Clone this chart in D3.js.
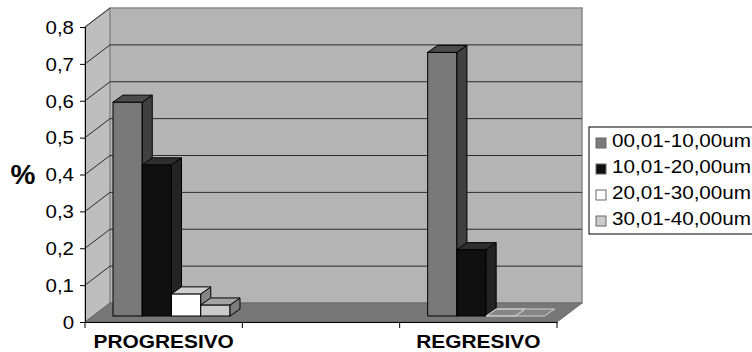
<!DOCTYPE html>
<html>
<head>
<meta charset="utf-8">
<script src="https://cdn.jsdelivr.net/npm/d3@7"></script>
<style>
  html, body { margin: 0; padding: 0; background: #fff; }
  svg { display: block; font-family: "Liberation Sans", Arial, sans-serif; }
</style>
</head>
<body>
<svg id="chart" width="752" height="352"></svg>
<script>
// Categories along the x axis (the middle slot is an empty spacer)
const categories = ["PROGRESIVO", "", "REGRESIVO"];
const seriesNames = ["00,01-10,00um", "10,01-20,00um", "20,01-30,00um", "30,01-40,00um"];
const s1Values = [0.58, null, 0.715];
const s2Values = [0.41, null, 0.18];
const s3Values = [0.06, null, 0.0];
const s4Values = [0.03, null, 0.0];
const yTicks = [0, 0.1, 0.2, 0.3, 0.4, 0.5, 0.6, 0.7, 0.8];
const yTickLabels = ["0", "0,1", "0,2", "0,3", "0,4", "0,5", "0,6", "0,7", "0,8"];

const seriesValues = [s1Values, s2Values, s3Values, s4Values];
const faceColors = [
  { front: "#797979", side: "#404040", top: "#4c4c4c" },
  { front: "#101010", side: "#242424", top: "#2e2e2e" },
  { front: "#ffffff", side: "#858585", top: "#cfcfcf" },
  { front: "#cbcbcb", side: "#7c7c7c", top: "#a3a3a3" }
];

const svg = d3.select("#chart");
const TEXT_SX = 1.17;               // horizontal stretch applied to labels
const WALL_DX = 25, WALL_DY = -19;  // depth of the 3D box
const BAR_FX = 8, BAR_FY = -6;      // bar front face offset into the box
const BAR_DX = 10, BAR_DY = -7;     // bar depth

const y = d3.scaleLinear().domain([0, 0.8]).range([322, 27]);
const x = d3.scaleBand().domain(categories).range([85, 557]);
const xs = d3.scaleBand().domain(seriesNames).range([20, 137]);

const left = x.range()[0], right = x.range()[1];
const pts = a => a.map(p => p.join(",")).join(" ");

// Walls and floor
svg.append("polygon")
  .attr("points", pts([[left, y(0)], [left + WALL_DX, y(0) + WALL_DY], [left + WALL_DX, y(0.8) + WALL_DY], [left, y(0.8)]]))
  .attr("fill", "#bebebe").attr("stroke", "#8a8a8a");
svg.append("rect")
  .attr("x", left + WALL_DX).attr("y", y(0.8) + WALL_DY)
  .attr("width", right - left).attr("height", y(0) - y(0.8))
  .attr("fill", "#b4b4b4").attr("stroke", "#8a8a8a").attr("stroke-width", 1.5);
svg.append("polygon")
  .attr("points", pts([[left, y(0)], [right, y(0)], [right + WALL_DX, y(0) + WALL_DY], [left + WALL_DX, y(0) + WALL_DY]]))
  .attr("fill", "#777777").attr("stroke", "#666");

// Gridlines on the back and side walls
const grid = svg.append("g").attr("stroke", "#2a2a2a").attr("stroke-width", 1);
yTicks.filter(t => t > 0 && t < 0.8).forEach(t => {
  grid.append("line")
    .attr("x1", left + WALL_DX).attr("x2", right + WALL_DX)
    .attr("y1", y(t) + WALL_DY).attr("y2", y(t) + WALL_DY);
});
yTicks.filter(t => t > 0).forEach(t => {
  grid.append("line")
    .attr("x1", left).attr("x2", left + WALL_DX)
    .attr("y1", y(t)).attr("y2", y(t) + WALL_DY);
});

// 3D bars, drawn left to right so each front face covers its neighbour's side
const bars = svg.append("g").attr("stroke", "#000").attr("stroke-width", 1);
categories.forEach((cat, ci) => {
  seriesNames.forEach((name, si) => {
    const v = seriesValues[si][ci];
    if (v === null || v === undefined) return;
    const c = faceColors[si];
    const bx = x(cat) + xs(name) + BAR_FX;
    const w = xs.bandwidth();
    const base = y(0) + BAR_FY;
    const top = y(v) + BAR_FY;
    const topFace = [[bx, top], [bx + BAR_DX, top + BAR_DY], [bx + w + BAR_DX, top + BAR_DY], [bx + w, top]];
    if (v === 0) {
      bars.append("polygon").attr("points", pts(topFace))
        .attr("fill", "#868686").attr("stroke", c.front === "#ffffff" ? "#f2f2f2" : "#d0d0d0");
      return;
    }
    bars.append("rect").attr("x", bx).attr("y", top).attr("width", w).attr("height", base - top)
      .attr("fill", c.front);
    bars.append("polygon")
      .attr("points", pts([[bx + w, top], [bx + w + BAR_DX, top + BAR_DY], [bx + w + BAR_DX, base + BAR_DY], [bx + w, base]]))
      .attr("fill", c.side);
    bars.append("polygon").attr("points", pts(topFace)).attr("fill", c.top);
  });
});

// Value axis
const yAxis = svg.append("g")
  .attr("transform", `translate(${left},0)`)
  .call(d3.axisLeft(y).tickValues(yTicks).tickFormat((d, i) => yTickLabels[i]).tickSize(5).tickPadding(6));
yAxis.select(".domain").attr("stroke", "#000");
yAxis.selectAll(".tick line").attr("stroke", "#000");
yAxis.selectAll(".tick text")
  .attr("font-size", 17.5).attr("fill", "#000")
  .attr("font-family", "'Liberation Sans', Arial, sans-serif")
  .attr("x", -11 / TEXT_SX).attr("dy", "0.36em")
  .attr("transform", `scale(${TEXT_SX},1)`);

// Category axis
const xAxis = svg.append("g")
  .attr("transform", `translate(0,${y(0)})`)
  .call(d3.axisBottom(x).tickSize(0).tickPadding(13));
xAxis.select(".domain").attr("stroke", "#000");
xAxis.selectAll(".tick text")
  .attr("font-size", 18.5).attr("font-weight", "bold").attr("fill", "#000")
  .attr("font-family", "'Liberation Sans', Arial, sans-serif")
  .attr("transform", `scale(1.13,1)`);
// Category boundary tick marks
const boundaries = categories.map(c => x(c)).concat([right]);
xAxis.selectAll(".bound").data(boundaries).enter().append("line")
  .attr("class", "bound")
  .attr("x1", d => d).attr("x2", d => d).attr("y1", 0).attr("y2", 6)
  .attr("stroke", "#000");

// Axis title
svg.append("text")
  .attr("x", 23).attr("y", 184)
  .attr("text-anchor", "middle")
  .attr("font-size", 28).attr("font-weight", "bold")
  .text("%");

// Legend
const legend = svg.append("g").attr("transform", "translate(589,127)");
legend.append("rect").attr("x", 0).attr("y", 0).attr("width", 170).attr("height", 107)
  .attr("fill", "#fff").attr("stroke", "#000");
seriesNames.forEach((name, i) => {
  const g = legend.append("g").attr("transform", `translate(0,${20 + i * 26})`);
  g.append("rect").attr("x", 7).attr("y", -9).attr("width", 10).attr("height", 10)
    .attr("fill", faceColors[i].front).attr("stroke", "#666");
  g.append("text")
    .attr("transform", `translate(23,0) scale(1.15,1)`)
    .attr("font-size", 18).attr("fill", "#000")
    .text(name);
});
</script>
</body>
</html>
